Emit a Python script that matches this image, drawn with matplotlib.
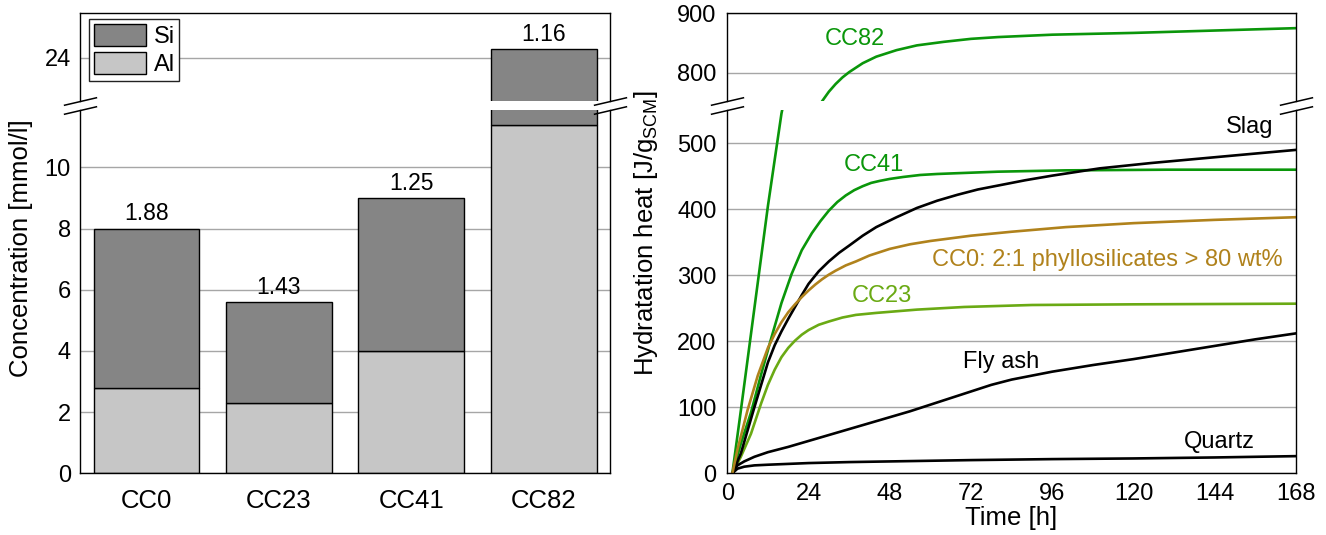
import matplotlib as mpl
mpl.use('Agg')
import matplotlib.pyplot as plt
import numpy as np

plt.rcParams['font.family'] = ['Liberation Sans', 'DejaVu Sans']
plt.rcParams['mathtext.fontset'] = 'custom'
plt.rcParams['mathtext.rm'] = 'Liberation Sans'
plt.rcParams['mathtext.it'] = 'Liberation Sans:italic'

# dissolved Si and Al per sample [mmol/l] and Si/Al ratio
samples = ['CC0', 'CC23', 'CC41', 'CC82']
al_conc = [2.79, 2.30, 4.00, 11.38]
si_conc = [5.21, 3.29, 5.00, 12.90]
si_al_ratio = ['1.88', '1.43', '1.25', '1.16']

# hydratation heat curves [J/g_SCM] over time [h]
cc82_t = [1.5, 4, 8, 12, 16, 20, 24, 28, 30, 32, 34, 36, 40, 44, 50, 56, 64, 72, 80,
          96, 120, 144, 168]
cc82_q = [0, 95, 250, 405, 545, 645, 708, 752, 768, 781, 792, 801, 816, 827, 838, 846,
          852, 857, 860, 864, 867, 871, 875]
cc41_t = [1.5, 4, 7, 10, 13, 16, 19, 22, 25, 27.5, 30, 32.5, 35, 37.5, 40, 42.5, 45,
          48, 52, 57, 62, 67, 80, 100, 130, 168]
cc41_q = [0, 45, 92, 150, 205, 258, 302, 338, 364, 382, 398, 411, 421, 429, 435, 440,
          443, 446, 449, 452, 453.5, 454.5, 457, 459, 460, 460]
slag_t = [1.5, 4, 8, 12, 14, 16, 18, 20, 22, 24, 27, 30, 33, 36, 40, 44, 50, 56, 62,
          68, 74, 80, 88, 96, 110, 125, 140, 155, 168]
slag_q = [0, 30, 100, 168, 194, 215, 234, 252, 270, 287, 306, 321, 334, 345, 360, 373,
          388, 402, 413, 422, 430, 436, 444, 451, 462, 470, 477, 484, 490]
cc0_t = [1.5, 3, 6, 9, 12, 14, 16, 18, 20, 22, 24, 26, 28, 30, 32, 35, 38, 42, 48, 54,
         60, 66, 72, 84, 100, 120, 144, 168]
cc0_q = [0, 36, 96, 148, 190, 211, 229, 244, 256, 267, 277, 286, 294, 301, 307, 315,
         321, 330, 340, 347, 352, 356, 360, 366, 373, 379, 384, 388]
cc23_t = [1.5, 4, 7, 10, 12, 14, 16, 18, 20, 22, 24, 27, 30, 34, 38, 44, 56, 70, 90,
          120, 168]
cc23_q = [0, 25, 60, 106, 134, 157, 176, 190, 201, 210, 217, 225, 230, 236, 240, 243,
          248, 252, 255, 256, 257]
flyash_t = [1.5, 3, 5, 8, 12, 18, 24, 30, 36, 42, 48, 54, 60, 66, 72, 78, 84, 96, 108,
            120, 132, 144, 156, 168]
flyash_q = [0, 12, 18, 25, 32, 40, 49, 58, 67, 76, 85, 94, 104, 114, 124, 134, 142, 154,
            164, 173, 183, 193, 203, 212]
quartz_t = [1.5, 3, 5, 8, 12, 24, 36, 48, 72, 96, 120, 144, 168]
quartz_q = [0, 7, 10, 12, 13, 15.5, 17, 18, 20, 21.5, 22.5, 24, 26]

SI_COLOR = '#858585'
AL_COLOR = '#c6c6c6'
DARK_GREEN = '#0a960a'
LIGHT_GREEN = '#6aaa14'
BROWN = '#b0821c'
GRID = '#a6a6a6'

W, H = 1326, 535
fig = plt.figure(figsize=(W / 100, H / 100), dpi=100)


def box(l, t, r, b):
    return [l / W, 1 - b / H, (r - l) / W, (b - t) / H]


def style(ax, pad):
    ax.tick_params(length=0, labelsize=17, pad=pad)
    ax.yaxis.grid(True, color=GRID, lw=1)
    ax.set_axisbelow(True)
    for s in ax.spines.values():
        s.set_linewidth(1.0)
        s.set_color('k')


def break_marks(ax, y):
    ax.plot([0, 1], [y, y], transform=ax.transAxes, linestyle='none',
            marker=[(-1, -0.233), (1, 0.233)], markersize=24,
            mec='k', mew=1.1, clip_on=False, zorder=5)


# ---- left: concentrations, broken y axis ----
ax_lo = fig.add_axes(box(80.3, 109.5, 610, 473.3))
ax_hi = fig.add_axes(box(80.3, 13.3, 610, 101), sharex=ax_lo)
x = np.arange(len(samples))
for ax in (ax_lo, ax_hi):
    style(ax, 6.7)
    b_al = ax.bar(x, al_conc, 0.8, color=AL_COLOR, edgecolor='k', lw=1)
    b_si = ax.bar(x, si_conc, 0.8, bottom=al_conc, color=SI_COLOR, edgecolor='k', lw=1)
ax_lo.set_xlim(-0.5, 3.5)
ax_lo.set_ylim(0, 11.89)
ax_hi.set_ylim(22.585, 25.45)
ax_lo.set_yticks(range(0, 11, 2))
ax_hi.set_yticks([24])
ax_lo.set_xticks(x)
ax_lo.set_xticklabels(samples, fontsize=18.5)
ax_lo.tick_params(axis='x', pad=11.5)
ax_hi.tick_params(axis='x', labelbottom=False)
ax_lo.spines['top'].set_visible(False)
ax_hi.spines['bottom'].set_visible(False)
break_marks(ax_lo, 1)
break_marks(ax_hi, 0)

for i, (a, s, lab) in enumerate(zip(al_conc, si_conc, si_al_ratio)):
    top = a + s
    ax = ax_hi if top > ax_lo.get_ylim()[1] else ax_lo
    ax.annotate(lab, (x[i], top), xytext=(0, 6), textcoords='offset points',
                ha='center', va='baseline', fontsize=16.5)

leg = ax_hi.legend([b_si, b_al], ['Si', 'Al'], loc='upper left',
                   bbox_to_anchor=(89.3 / W, 1 - 19 / H), bbox_transform=fig.transFigure,
                   borderaxespad=0, fancybox=False, framealpha=1, edgecolor='#222222',
                   fontsize=17, handlelength=2.2, handleheight=1.06,
                   labelspacing=0.17, handletextpad=0.32, borderpad=0.2)
leg.get_frame().set_linewidth(1)

fig.text(21 / W, 1 - 377 / H, 'Concentration [mmol/l]', rotation=90,
         ha='center', va='bottom', fontsize=18.5)

# ---- right: hydratation heat, broken y axis ----
ax2_lo = fig.add_axes(box(727.3, 109.5, 1296, 473.3))
ax2_hi = fig.add_axes(box(727.3, 13.3, 1296, 101), sharex=ax2_lo)
curves = [
    (cc82_t, cc82_q, DARK_GREEN),
    (cc41_t, cc41_q, DARK_GREEN),
    (cc23_t, cc23_q, LIGHT_GREEN),
    (quartz_t, quartz_q, 'k'),
    (flyash_t, flyash_q, 'k'),
    (slag_t, slag_q, 'k'),
    (cc0_t, cc0_q, BROWN),
]
for ax in (ax2_lo, ax2_hi):
    style(ax, 7.7)
    for t, q, c in curves:
        ax.plot(t, q, color=c, lw=1.9, solid_joinstyle='round', solid_capstyle='round')
ax2_lo.set_xlim(0, 168)
ax2_lo.set_xticks(range(0, 169, 24))
ax2_lo.tick_params(axis='x', pad=7)
ax2_hi.tick_params(axis='x', labelbottom=False)
ax2_lo.set_ylim(0, 551.2)
ax2_hi.set_ylim(752.4, 900)
ax2_lo.set_yticks(range(0, 501, 100))
ax2_hi.set_yticks([800, 900])
ax2_lo.spines['top'].set_visible(False)
ax2_hi.spines['bottom'].set_visible(False)
break_marks(ax2_lo, 1)
break_marks(ax2_hi, 0)

lab_kw = dict(fontsize=17, va='baseline')
ax2_hi.text(28.8, 846.6, 'CC82', color=DARK_GREEN, **lab_kw)
ax2_lo.text(34.5, 458, 'CC41', color=DARK_GREEN, **lab_kw)
ax2_lo.text(161.4, 515, 'Slag', color='k', ha='right', **lab_kw)
ax2_lo.text(60.5, 314, 'CC0: 2:1 phyllosilicates > 80 wt%', color=BROWN, **lab_kw)
ax2_lo.text(36.8, 259, 'CC23', color=LIGHT_GREEN, **lab_kw)
ax2_lo.text(69.7, 159, 'Fly ash', color='k', **lab_kw)
ax2_lo.text(134.8, 37.9, 'Quartz', color='k', **lab_kw)

fig.text(646 / W, 1 - 376 / H, r'Hydratation heat [J/g$_\mathrm{SCM}$]', rotation=90,
         ha='center', va='bottom', fontsize=18.5)
fig.text(1011.6 / W, 1 - 525 / H, 'Time [h]', ha='center', va='baseline', fontsize=18.5)

fig.savefig('out.png', dpi=100)
